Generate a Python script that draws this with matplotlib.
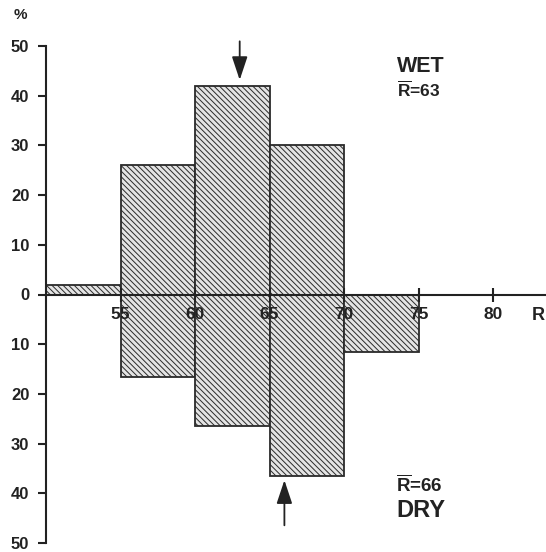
import matplotlib
matplotlib.use("Agg")
import matplotlib.pyplot as plt

plt.rcParams['font.family'] = ['Liberation Sans', 'DejaVu Sans']
plt.rcParams['mathtext.fontset'] = 'custom'
plt.rcParams['mathtext.rm'] = 'Liberation Sans:bold'
plt.rcParams['mathtext.bf'] = 'Liberation Sans:bold'
plt.rcParams['hatch.color'] = '#c2c2c2'
plt.rcParams['hatch.linewidth'] = 0.7

# Data
bin_edges_wet = [50, 55, 60, 65]
wet_pct = [2, 26, 42, 30]
bin_edges_dry = [55, 60, 65, 70]
dry_pct = [16.5, 26.5, 36.5, 11.5]
bin_width = 5
wet_mean = 63
dry_mean = 66
x_ticks = [55, 60, 65, 70, 75, 80]
y_ticks = [-50, -40, -30, -20, -10, 0, 10, 20, 30, 40, 50]

W, H = 546, 552
fig = plt.figure(figsize=(W / 100, H / 100), dpi=100)
ax_left = 46 / W
ax_bottom = (H - 543) / H
ax_h = 497 / H
ax = fig.add_axes([ax_left, ax_bottom, 1 - ax_left, ax_h])

PX = 14.9  # pixels per R unit


def xr(px):
    return 50 + (px - 46) / PX


hatch = '\\\\\\\\\\\\'
ax.bar(bin_edges_wet, wet_pct, width=bin_width, align='edge',
       facecolor='#e4e4e4', edgecolor='#2a2a2a', linewidth=1.3, hatch=hatch)
ax.bar(bin_edges_dry, [-v for v in dry_pct], width=bin_width, align='edge',
       facecolor='#e4e4e4', edgecolor='#2a2a2a', linewidth=1.3, hatch=hatch)

ax.set_xlim(50, 50 + 500 / PX)
ax.set_ylim(-50, 50)

for s in ['top', 'right']:
    ax.spines[s].set_visible(False)
ax.spines['bottom'].set_position(('data', 0))
for s in ['left', 'bottom']:
    ax.spines[s].set_linewidth(1.5)
    ax.spines[s].set_color('#222222')

ax.set_yticks(y_ticks)
ax.set_yticklabels([str(abs(v)) for v in y_ticks])
ax.set_xticks(x_ticks)
ax.set_xticklabels([str(v) for v in x_ticks])
ax.tick_params(axis='y', direction='out', length=6, width=1.5, labelsize=12,
               pad=6, colors='#222222')
ax.tick_params(axis='x', direction='inout', length=10, width=1.5, labelsize=12.5,
               pad=4, colors='#222222')
for lab in ax.get_xticklabels() + ax.get_yticklabels():
    lab.set_fontweight('bold')

# Labels
ax.text(xr(20), 56.2, '%', fontsize=11, fontweight='bold',
        ha='center', va='center', clip_on=False, color='#222222')
ax.text(xr(538), -4.2, 'R', fontsize=13, fontweight='bold',
        ha='center', va='center', clip_on=False, color='#222222')

ax.text(xr(397), 44.8, 'WET', fontsize=15.5, fontweight='bold',
        ha='left', va='baseline', color='#222222')
ax.text(xr(397), 39.8, r'$\overline{\mathrm{R}}$=63', fontsize=12.5,
        fontweight='bold', ha='left', va='baseline', color='#222222')
ax.text(xr(396), -39.8, r'$\overline{\mathrm{R}}$=66', fontsize=13.5,
        fontweight='bold', ha='left', va='baseline', color='#222222')
ax.text(xr(396), -44.8, 'DRY', fontsize=17, fontweight='bold',
        ha='left', va='baseline', color='#222222')

# Mean arrows
arrow_kw = dict(arrowstyle='-|>,head_length=0.9,head_width=0.3',
                color='#222222', lw=1.3, mutation_scale=16)
ax.annotate('', xy=(wet_mean, 42.6), xytext=(wet_mean, 51.5),
            arrowprops=arrow_kw, annotation_clip=False)
ax.annotate('', xy=(dry_mean, -36.8), xytext=(dry_mean, -47),
            arrowprops=arrow_kw, annotation_clip=False)

fig.savefig('out.png', dpi=100)
